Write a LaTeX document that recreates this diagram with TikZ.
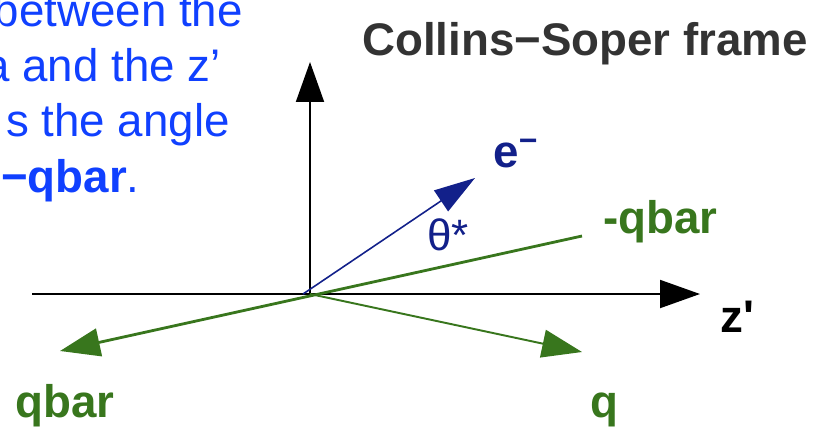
\documentclass[tikz,border=0pt]{standalone}
\usepackage{fontspec}
\setmainfont{Liberation Sans}[Ligatures=TeXOff]
\usepackage{xcolor}
\definecolor{TextBlue}{HTML}{1040FF}
\definecolor{NavyMid}{HTML}{12208A}
\definecolor{GreenMid}{HTML}{38761D}
\definecolor{GrayDark}{HTML}{333333}
\usetikzlibrary{arrows.meta}
\tikzset{
  axs/.style={line width=1.1pt, color=black, -{Triangle[length=0.8cm, width=0.56cm]}},
  earr/.style={line width=0.9pt, color=NavyMid, -{Triangle[length=0.82cm, width=0.5cm]}},
  garr/.style={line width=1.6pt, color=GreenMid, -{Triangle[length=0.8cm, width=0.56cm]}},
  qarr/.style={line width=1.1pt, color=GreenMid, -{Triangle[length=0.8cm, width=0.56cm]}},
  lbl/.style={inner sep=0pt, anchor=base west, font=\bfseries\fontsize{26pt}{30pt}\selectfont},
  blu/.style={inner sep=0pt, anchor=base east, text=TextBlue, font=\fontsize{26pt}{30pt}\selectfont},
}

\begin{document}
\begin{tikzpicture}[x=0.02cm, y=-0.02cm]
  \clip (0,0) rectangle (827,426);

  % Frame points
  \coordinate (O)    at (310,294);
  \coordinate (eo)   at (303,294);
  \coordinate (zl)   at (32,294);
  \coordinate (zr)   at (700,294);
  \coordinate (yt)   at (310,62);
  \coordinate (etip) at (475,178);
  \coordinate (mqb)  at (582,236);
  \coordinate (qb)   at (60,351);
  \coordinate (q)    at (582,352);

  % Axes
  \draw[axs] (zl) -- (zr);
  \draw[axs] (O) -- (yt);

  % Vectors
  \draw[earr] (eo) -- (etip);
  \draw[garr] (mqb) -- (qb);
  \draw[qarr] (O) -- (q);

  % Title
  \node[lbl, anchor=base, text=GrayDark] (title) at (585,55) {Collins−Soper frame};

  % Labels
  \node[lbl, text=NavyMid] (elab) at (493,167) {e\textsuperscript{−}};
  \node[lbl, text=NavyMid, font=\fontsize{25pt}{29pt}\selectfont] (thlab) at (427,250) {θ*};
  \node[lbl, text=GreenMid] (mqblab) at (603,233) {-qbar};
  \node[lbl] (zlab) at (720,332) {z'};
  \node[lbl, text=GreenMid] (qlab) at (590,417) {q};
  \node[lbl, text=GreenMid] (qblab) at (15,417) {qbar};

  % Side text
  \node[blu] (txt1) at (243,26)  {between the};
  \node[blu] (txt2) at (221,81)  {a and the z’};
  \node[blu] (txt3) at (230,136) {s the angle};
  \node[blu] (txt4) at (140,192) {{\bfseries −qbar}.};

\end{tikzpicture}
\end{document}
